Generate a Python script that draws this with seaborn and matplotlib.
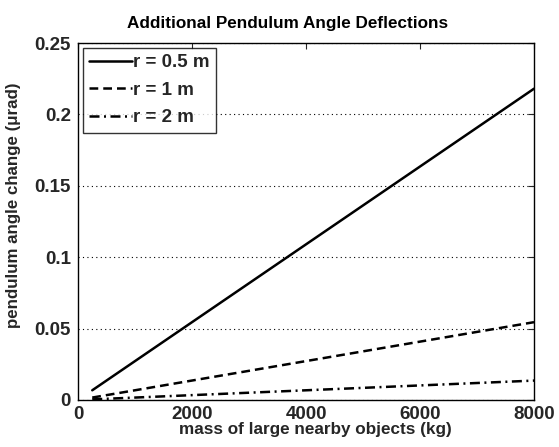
import matplotlib
matplotlib.use("Agg")
import matplotlib.pyplot as plt
import seaborn as sns
import pandas as pd

mass_kg = [250, 8000]
series_labels = ["r = 0.5 m", "r = 1 m", "r = 2 m"]
angle_r05 = [0.0068, 0.218]
angle_r1 = [0.0017, 0.0545]
angle_r2 = [0.00043, 0.0136]
x_ticks = [0, 2000, 4000, 6000, 8000]
y_ticks = [0, 0.05, 0.1, 0.15, 0.2, 0.25]
y_tick_labels = ["0", "0.05", "0.1", "0.15", "0.2", "0.25"]

sns.set_style("white")
plt.rcParams['font.family'] = ['Liberation Sans', 'DejaVu Sans']
plt.rcParams['font.weight'] = 'bold'

rows = []
for lab, vals in zip(series_labels, [angle_r05, angle_r1, angle_r2]):
    for m, v in zip(mass_kg, vals):
        rows.append({"mass": m, "angle": v, "series": lab})
df = pd.DataFrame(rows)

fig = plt.figure(figsize=(5.59, 4.47), dpi=100)
ax = fig.add_axes([78/559, 1-400/447, (534-78)/559, (400-43)/447])

dashes = {"r = 0.5 m": "", "r = 1 m": (3.5, 2), "r = 2 m": (4, 1.8, 0.8, 1.8)}
sns.lineplot(data=df, x="mass", y="angle", hue="series", style="series",
             palette=["black"]*3, dashes=dashes, linewidth=1.8, ax=ax,
             hue_order=series_labels, style_order=series_labels)

ax.set_xlim(0, 8000)
ax.set_ylim(0, 0.25)
ax.set_xticks(x_ticks)
ax.set_xticklabels([str(t) for t in x_ticks], fontsize=13.5, fontweight='bold')
ax.set_yticks(y_ticks)
ax.set_yticklabels(y_tick_labels, fontsize=13.5, fontweight='bold')
ax.tick_params(direction='in', length=4, width=0.8, top=True, right=True)
ax.tick_params(axis='x', pad=4)
ax.tick_params(axis='y', pad=5)
ax.yaxis.grid(True, linestyle=(0, (1, 3)), color='black', linewidth=0.8)
ax.xaxis.grid(False)
for s in ax.spines.values():
    s.set_color('black')
    s.set_linewidth(1.0)

ax.set_title("Additional Pendulum Angle Deflections", fontsize=12.3, fontweight='bold',
             pad=11, x=0.46, color='black')
ax.set_xlabel("mass of large nearby objects (kg)", fontsize=12.3, fontweight='bold', labelpad=-1)
ax.xaxis.set_label_coords(0.52, -0.062)
ax.set_ylabel("pendulum angle change (\u03bcrad)", fontsize=12.2, fontweight='bold')
ax.yaxis.set_label_coords(-0.125, 0.546)

leg = ax.legend(loc='upper left', fontsize=13.5, frameon=True, fancybox=False,
                borderaxespad=0.25, handlelength=2.3, handletextpad=0.05,
                labelspacing=0.55, borderpad=0.35)
leg.get_frame().set_edgecolor('black')
leg.get_frame().set_linewidth(1.0)
for t in leg.get_texts():
    t.set_fontweight('bold')
for line in leg.get_lines():
    line.set_linewidth(1.8)

fig.savefig("out.png", dpi=100)
